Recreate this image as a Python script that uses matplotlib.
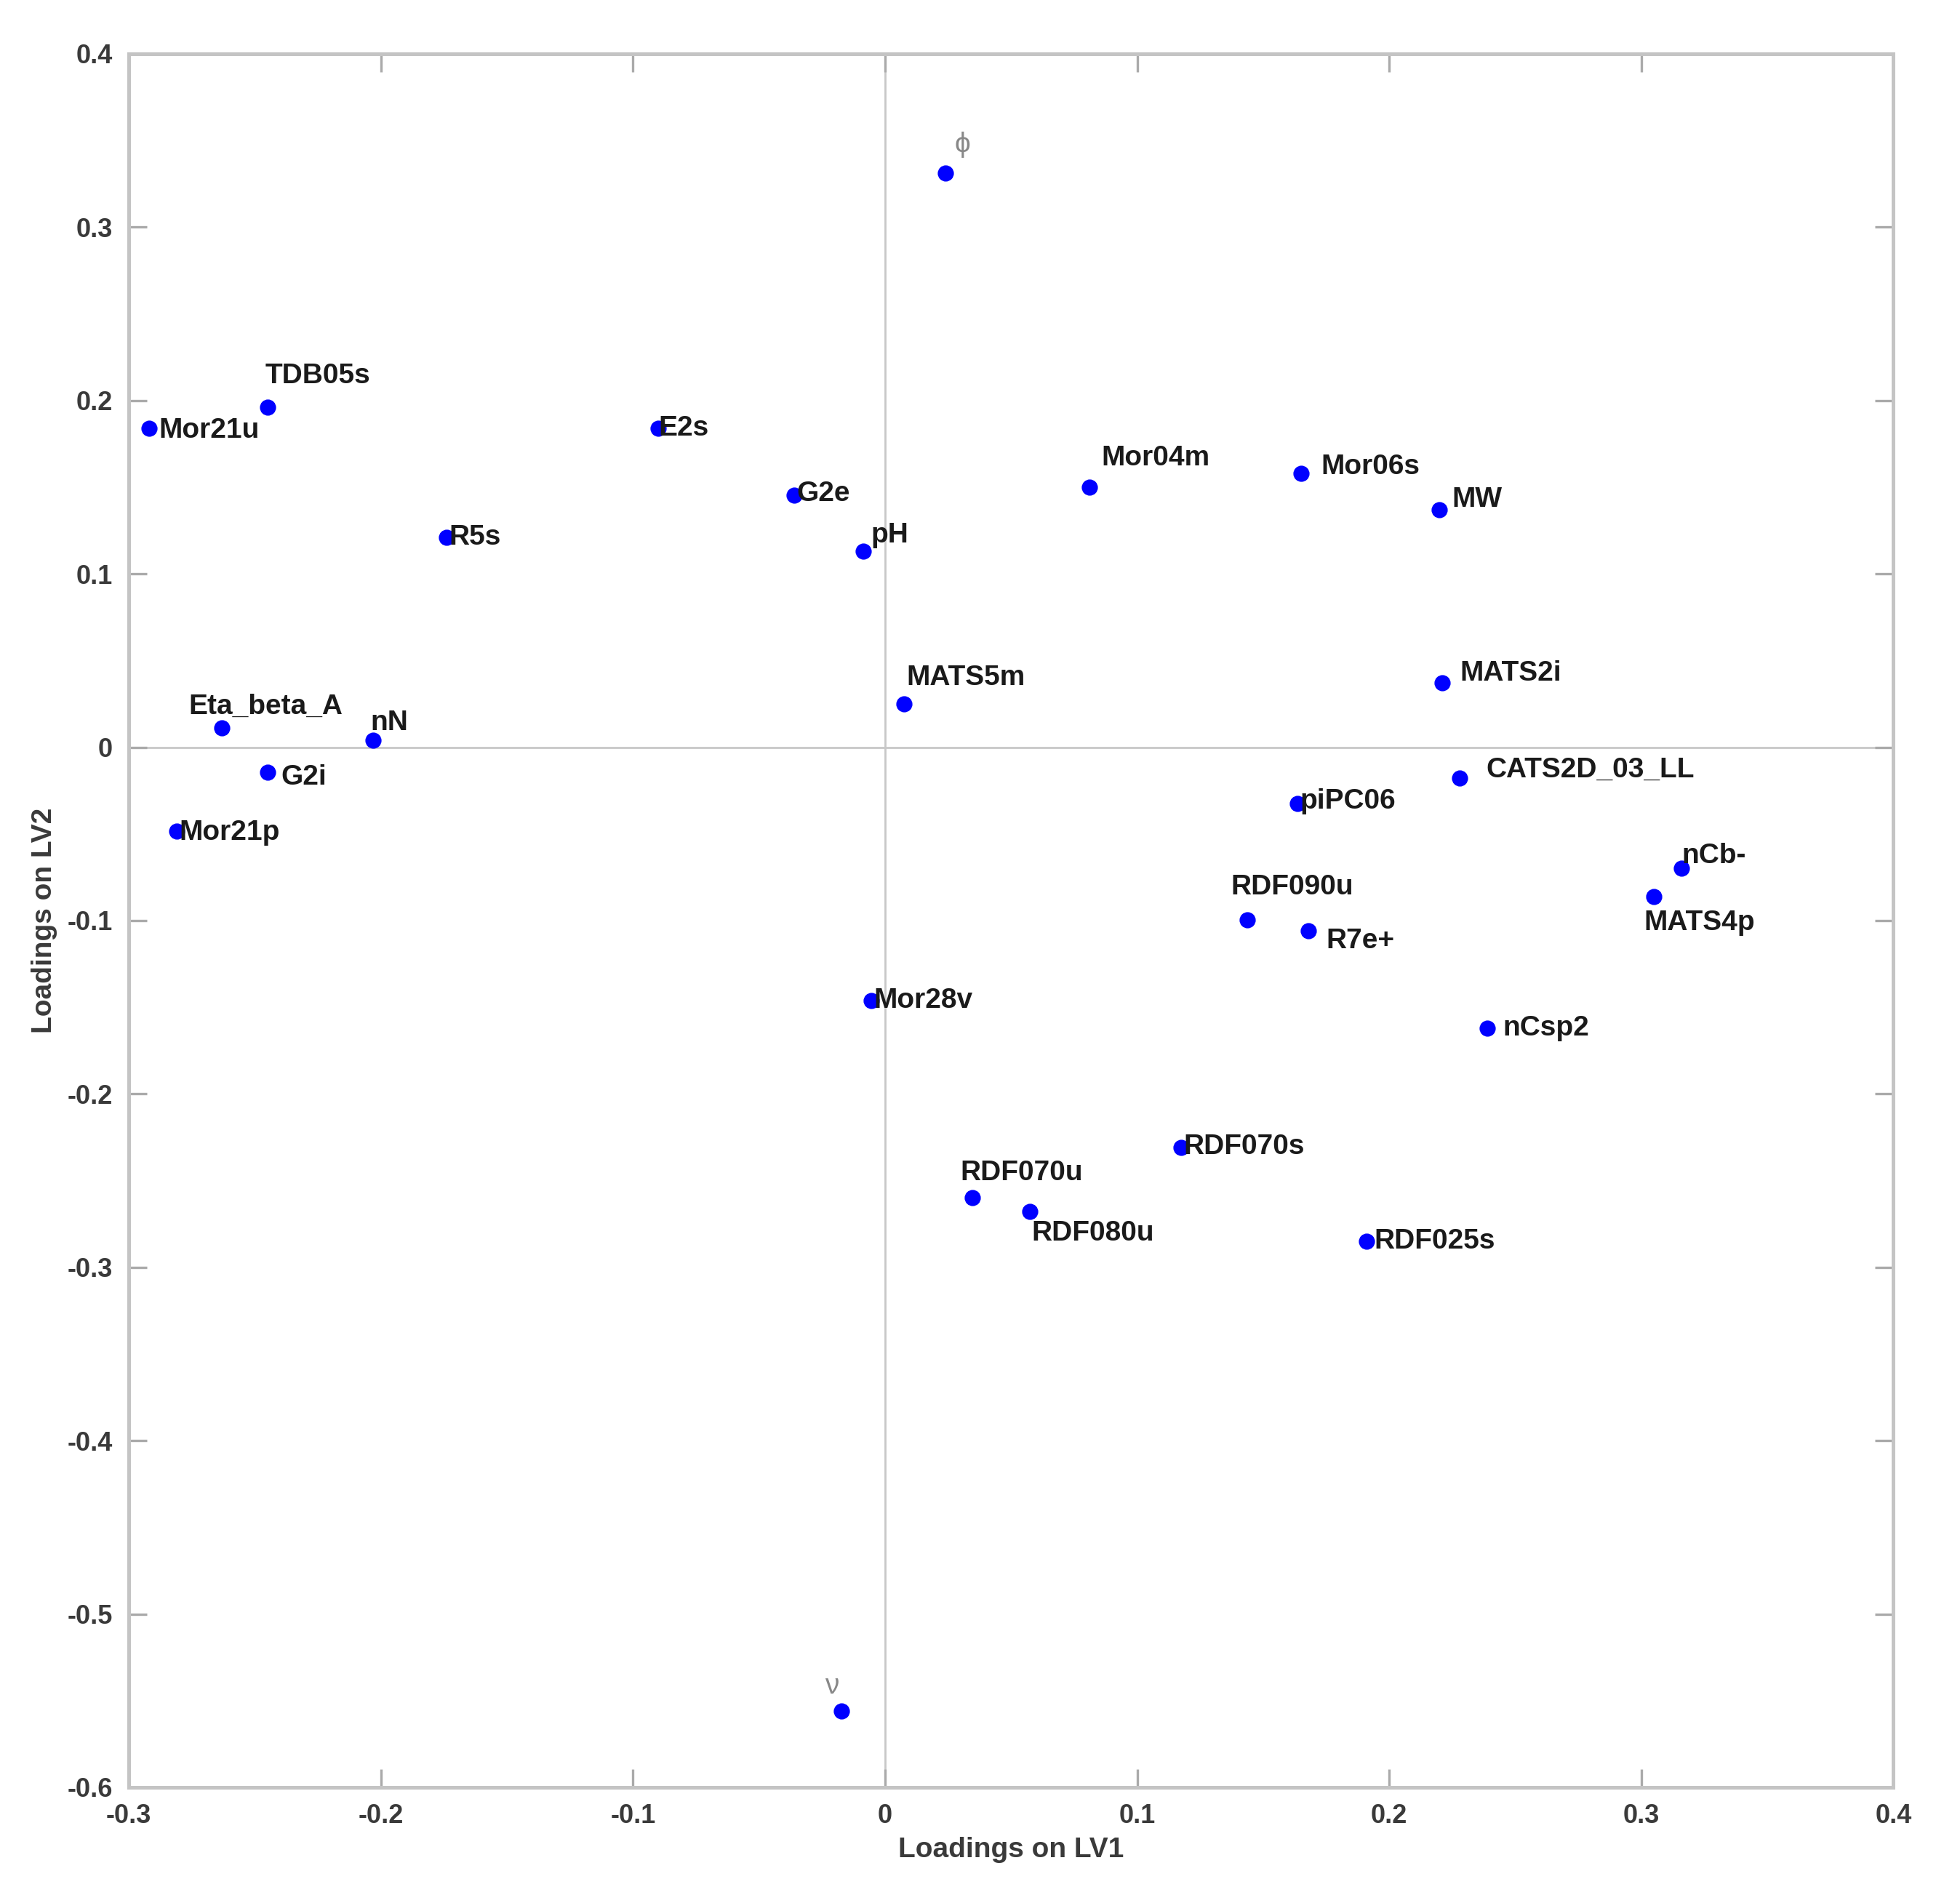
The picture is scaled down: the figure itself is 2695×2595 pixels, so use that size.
import matplotlib
matplotlib.use("Agg")
import matplotlib.pyplot as plt
import numpy as np

plt.rcParams['font.family'] = ['Liberation Sans', 'DejaVu Sans']

# descriptor loadings
names = ['Mor21u', 'TDB05s', 'E2s', 'G2e', 'R5s', 'pH', 'Mor04m', 'Mor06s', 'MW',
         'MATS5m', 'MATS2i', 'Eta_beta_A', 'nN', 'G2i', 'Mor21p', 'CATS2D_03_LL',
         'piPC06', 'nCb-', 'MATS4p', 'RDF090u', 'R7e+', 'Mor28v', 'nCsp2',
         'RDF070s', 'RDF070u', 'RDF080u', 'RDF025s']
lv1 = [-0.292, -0.245, -0.090, -0.036, -0.174, -0.0085, 0.081, 0.165, 0.220,
       0.0074, 0.221, -0.263, -0.203, -0.245, -0.281, 0.228,
       0.1636, 0.316, 0.305, 0.1437, 0.168, -0.0055, 0.239,
       0.1175, 0.0347, 0.0575, 0.191]
lv2 = [0.184, 0.196, 0.184, 0.1455, 0.121, 0.113, 0.150, 0.158, 0.137,
       0.025, 0.037, 0.011, 0.004, -0.0146, -0.0485, -0.018,
       -0.0326, -0.070, -0.086, -0.0996, -0.106, -0.146, -0.162,
       -0.231, -0.260, -0.268, -0.285]

# response variables (gray greek labels)
resp_names = ['\u03d5', '\u03bd']
resp_lv1 = [0.024, -0.0174]
resp_lv2 = [0.331, -0.556]

# label offsets (points), roughly where the original put them
offs = {
    'Mor21u': (8, -2), 'TDB05s': (-2, 25), 'E2s': (0, 0), 'G2e': (2, 1),
    'R5s': (2, 0), 'pH': (6, 13), 'Mor04m': (10, 23), 'Mor06s': (16, 5),
    'MW': (10, 8), 'MATS5m': (2, 21), 'MATS2i': (14, 8), 'Eta_beta_A': (-27, 17),
    'nN': (-2, 14), 'G2i': (11, -4), 'Mor21p': (2, -1), 'CATS2D_03_LL': (21, 7),
    'piPC06': (2, 2), 'nCb-': (0, 10), 'MATS4p': (-8, -21), 'RDF090u': (-13, 26),
    'R7e+': (14, -8), 'Mor28v': (2, 0), 'nCsp2': (12, 0), 'RDF070s': (2, 1),
    'RDF070u': (-10, 20), 'RDF080u': (1, -17), 'RDF025s': (6, 0),
    '\u03d5': (7, 23), '\u03bd': (-13, 20),
}
k = 0.619  # reference px -> points

fig = plt.figure(figsize=(13.475, 12.975), dpi=200)
ax = fig.add_axes([0.0657, 0.0528, 0.9003, 0.9187])

ax.axhline(0, color='#c8c8c8', lw=1.0, zorder=1)
ax.axvline(0, color='#c8c8c8', lw=1.0, zorder=1)

ax.plot(lv1 + resp_lv1, lv2 + resp_lv2, 'o', color='blue', ms=7, mec='blue', zorder=3)

for n, x, y in zip(names, lv1, lv2):
    dx, dy = offs[n]
    ax.annotate(n, (x, y), xytext=(dx * k, dy * k), textcoords='offset points',
                ha='left', va='center', fontsize=14, fontweight='bold', color='#1a1a1a')
for n, x, y in zip(resp_names, resp_lv1, resp_lv2):
    dx, dy = offs[n]
    ax.annotate(n, (x, y), xytext=(dx * k, dy * k), textcoords='offset points',
                ha='left', va='center', fontsize=14, color='#888888')

ax.set_xlim(-0.3, 0.4)
ax.set_ylim(-0.6, 0.4)
ax.set_xticks(np.arange(-0.3, 0.41, 0.1))
ax.set_yticks(np.arange(-0.6, 0.41, 0.1))
ax.set_xticklabels(['-0.3', '-0.2', '-0.1', '0', '0.1', '0.2', '0.3', '0.4'])
ax.set_yticklabels(['-0.6', '-0.5', '-0.4', '-0.3', '-0.2', '-0.1', '0', '0.1', '0.2', '0.3', '0.4'])
ax.tick_params(direction='in', top=True, right=True, length=9, width=1.2,
               color='#aaaaaa', labelsize=13, labelcolor='#3a3a3a', pad=8)
for lab in ax.get_xticklabels() + ax.get_yticklabels():
    lab.set_fontweight('bold')
for s in ax.spines.values():
    s.set_color('#c4c4c4')
    s.set_linewidth(1.8)

ax.set_xlabel('Loadings on LV1', fontsize=14, fontweight='bold', color='#3a3a3a', labelpad=4)
ax.set_ylabel('Loadings on LV2', fontsize=14, fontweight='bold', color='#3a3a3a', labelpad=5)

fig.savefig('out.png', dpi=200)
